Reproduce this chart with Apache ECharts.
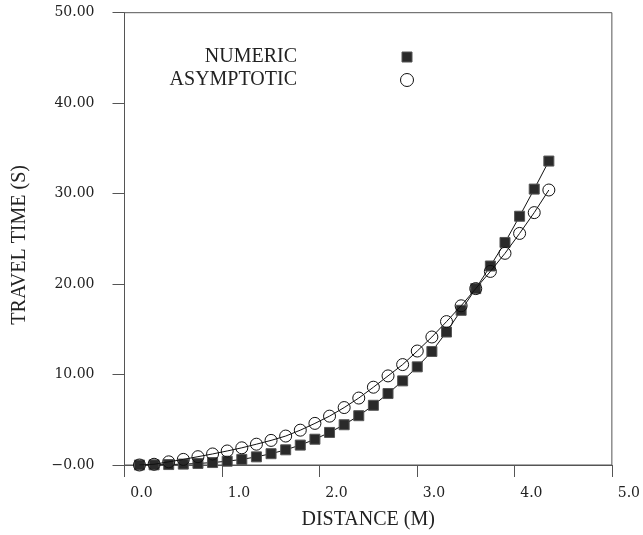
<!DOCTYPE html>
<html>
<head>
<meta charset="utf-8">
<script src="https://cdn.jsdelivr.net/npm/echarts@6/dist/echarts.min.js"></script>
<style>
html,body{margin:0;padding:0;background:#fff;}
#c{width:643px;height:535px;}
</style>
</head>
<body>
<div id="c"></div>
<script>
// distance (M)
const distance = [0, 0.15, 0.3, 0.45, 0.6, 0.75, 0.9, 1.05, 1.2, 1.35, 1.5, 1.65, 1.8, 1.95, 2.1, 2.25, 2.4, 2.55, 2.7, 2.85, 3.0, 3.15, 3.3, 3.45, 3.6, 3.75, 3.9, 4.05, 4.2];
// travel time (S)
const numeric = [0, 0.02, 0.05, 0.1, 0.17, 0.27, 0.42, 0.62, 0.9, 1.25, 1.68, 2.2, 2.85, 3.6, 4.45, 5.45, 6.6, 7.9, 9.3, 10.85, 12.55, 14.7, 17.1, 19.5, 22.0, 24.6, 27.5, 30.5, 33.6];
const asymptotic = [0, 0.08, 0.35, 0.62, 0.92, 1.22, 1.55, 1.9, 2.3, 2.72, 3.2, 3.85, 4.6, 5.4, 6.35, 7.4, 8.6, 9.85, 11.1, 12.6, 14.15, 15.85, 17.6, 19.5, 21.4, 23.4, 25.6, 27.9, 30.4];
const xTicks = [0, 1, 2, 3, 4, 5];
const yTicks = [0, 10, 20, 30, 40, 50];
const seriesNames = ['NUMERIC', 'ASYMPTOTIC'];

const serif = '"Liberation Serif", "DejaVu Serif", serif';
const tickFont = '"DejaVu Serif", serif';
const ink = '#222';
const axisCol = '#555';

const chart = echarts.init(document.getElementById('c'), null, {renderer: 'canvas'});
chart.setOption({
  animation: false,
  backgroundColor: '#fff',
  grid: {left: 124.5, right: 30.3, top: 12.7, bottom: 68, show: true, borderColor: axisCol, borderWidth: 1, backgroundColor: 'transparent'},
  xAxis: [{
    type: 'value', min: xTicks[0], max: xTicks[xTicks.length - 1], interval: 1,
    name: 'DISTANCE (M)', nameLocation: 'middle', nameGap: 45,
    nameTextStyle: {fontFamily: serif, fontSize: 20, color: ink, padding: [0, 0, 0, 0]},
    axisLine: {show: true, lineStyle: {color: axisCol, width: 1}},
    axisTick: {show: true, inside: false, length: 12, lineStyle: {color: axisCol, width: 1}},
    axisLabel: {margin: 21, fontFamily: tickFont, fontSize: 14, color: ink, padding: [0, 0, 0, 34],
      formatter: v => v.toFixed(1)},
    splitLine: {show: false}
  }, {
    type: 'value', min: -0.1535, max: 4.8465, show: false, position: 'bottom',
    splitLine: {show: false}
  }],
  yAxis: {
    type: 'value', min: yTicks[0], max: yTicks[yTicks.length - 1], interval: 10,
    name: 'TRAVEL TIME (S)', nameLocation: 'middle', nameGap: 95, nameRotate: 90,
    nameTextStyle: {fontFamily: serif, fontSize: 20, color: ink, padding: [0, 12, 0, 0]},
    axisLine: {show: true, lineStyle: {color: axisCol, width: 1}},
    axisTick: {show: true, inside: false, length: 12, lineStyle: {color: axisCol, width: 1}},
    axisLabel: {margin: 30, fontFamily: tickFont, fontSize: 14, color: ink,
      formatter: v => v === 0 ? '\u22120.00' : v.toFixed(2)},
    splitLine: {show: false}
  },
  graphic: [
    {type: 'text', x: 297, y: 57, style: {text: seriesNames[0], x: 0, y: 0, align: 'right', verticalAlign: 'middle', font: '20px ' + serif, fill: ink}},
    {type: 'text', x: 297, y: 80, style: {text: seriesNames[1], x: 0, y: 0, align: 'right', verticalAlign: 'middle', font: '20px ' + serif, fill: ink}},
    {type: 'rect', shape: {x: 402, y: 52, width: 10, height: 10}, style: {fill: '#2a2a2a', stroke: '#555', lineWidth: 1}},
    {type: 'circle', shape: {cx: 407, cy: 80, r: 6.5}, style: {fill: 'transparent', stroke: '#111', lineWidth: 1}}
  ],
  series: [{
    name: seriesNames[0], type: 'line', xAxisIndex: 1,
    data: distance.map((d, i) => [d, numeric[i]]),
    symbol: 'rect', symbolSize: 10, showSymbol: true,
    itemStyle: {color: '#2a2a2a', borderColor: '#555', borderWidth: 1},
    lineStyle: {color: '#111', width: 1},
    z: 2
  }, {
    name: seriesNames[1], type: 'line', xAxisIndex: 1,
    data: distance.map((d, i) => [d, asymptotic[i]]),
    symbol: 'circle', symbolSize: 12, showSymbol: true,
    itemStyle: {color: 'rgba(255,255,255,0)', borderColor: '#111', borderWidth: 1},
    lineStyle: {color: '#111', width: 1},
    z: 3
  }]
});
</script>
</body>
</html>
